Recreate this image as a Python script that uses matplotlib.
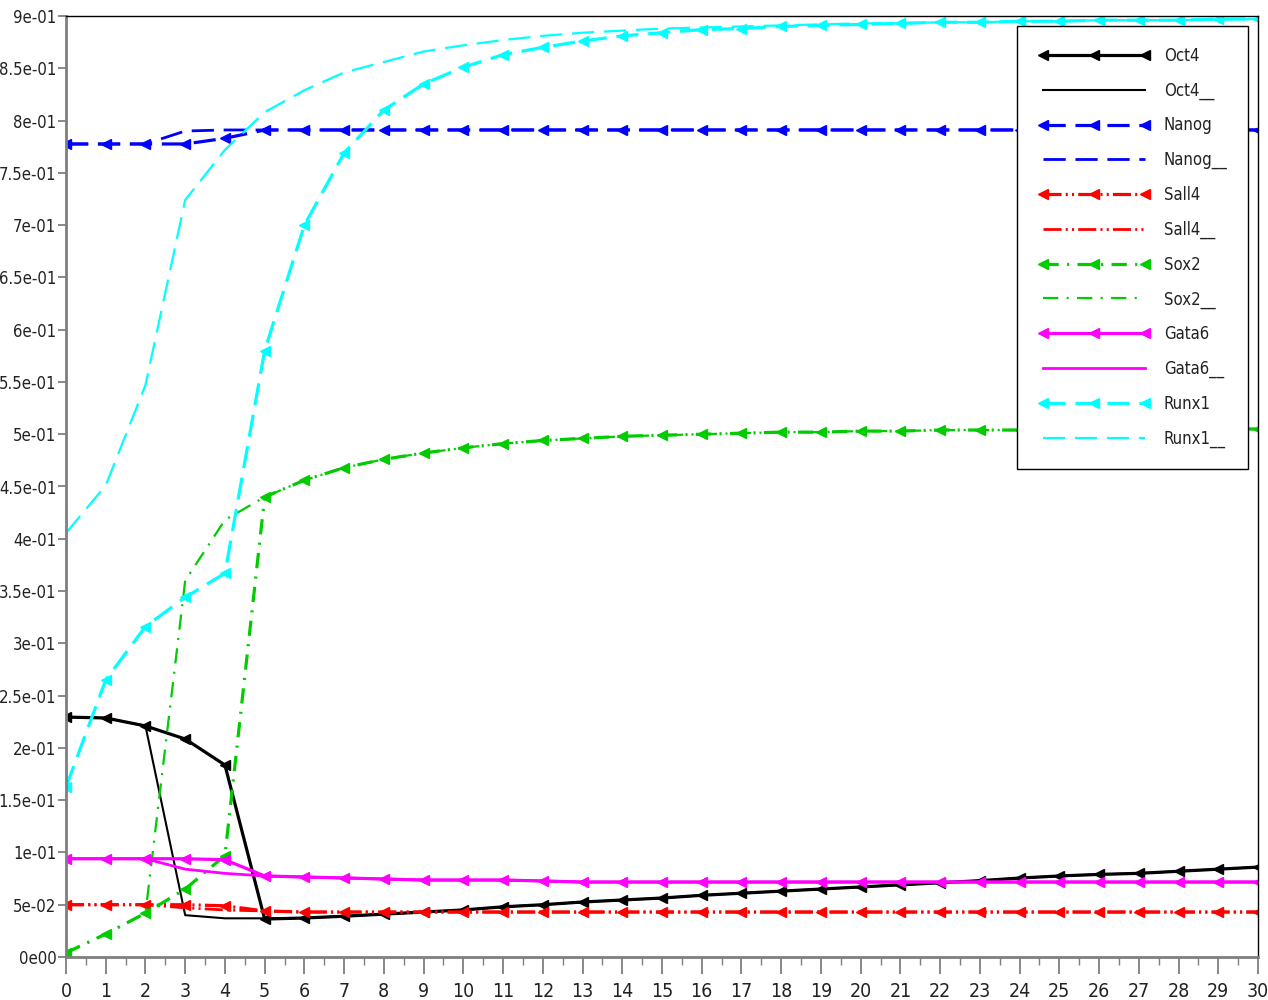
import matplotlib
matplotlib.use("Agg")
import matplotlib.pyplot as plt
from matplotlib.ticker import FixedLocator, MultipleLocator, FuncFormatter
import numpy as np

plt.rcParams["font.family"] = ["DejaVu Sans"]
plt.rcParams["font.stretch"] = "condensed"
plt.rcParams["lines.scale_dashes"] = False

t = list(range(31))

oct4 = [0.2295, 0.2286, 0.221, 0.2085, 0.1836, 0.0363, 0.0373, 0.039, 0.041, 0.043,
        0.045, 0.048, 0.050, 0.0526, 0.0545, 0.0564, 0.059, 0.061, 0.063, 0.065,
        0.067, 0.069, 0.071, 0.073, 0.0755, 0.0775, 0.079, 0.080, 0.082, 0.084, 0.086]
oct4_ = [0.2295, 0.2286, 0.221, 0.040, 0.037, 0.037, 0.0373, 0.039, 0.041, 0.043,
         0.045, 0.048, 0.050, 0.0526, 0.0545, 0.0564, 0.059, 0.061, 0.063, 0.065,
         0.067, 0.069, 0.071, 0.073, 0.0755, 0.0775, 0.079, 0.080, 0.082, 0.084, 0.086]
nanog = [0.7776, 0.7776, 0.7776, 0.7776, 0.783] + [0.791] * 26
nanog_ = [0.7776, 0.7776, 0.7776, 0.790] + [0.791] * 27
sall4 = [0.050, 0.050, 0.050, 0.050, 0.049, 0.044] + [0.043] * 25
sall4_ = [0.050, 0.050, 0.050, 0.047, 0.045, 0.044] + [0.043] * 25
sox2 = [0.004, 0.022, 0.042, 0.065, 0.097, 0.440, 0.456, 0.468, 0.476, 0.482,
        0.487, 0.491, 0.494, 0.496, 0.498, 0.499, 0.500, 0.501, 0.502, 0.502,
        0.503, 0.503, 0.504, 0.504, 0.504, 0.505, 0.505, 0.505, 0.505, 0.505, 0.505]
sox2_ = [0.004, 0.022, 0.042, 0.360, 0.418, 0.440, 0.456, 0.468, 0.476, 0.482,
         0.487, 0.491, 0.494, 0.496, 0.498, 0.499, 0.500, 0.501, 0.502, 0.502,
         0.503, 0.503, 0.504, 0.504, 0.504, 0.505, 0.505, 0.505, 0.505, 0.505, 0.505]
gata6 = [0.094, 0.094, 0.094, 0.094, 0.093, 0.0775, 0.0765, 0.0756, 0.0746, 0.0736,
         0.0736, 0.0736, 0.0727] + [0.0717] * 18
gata6_ = [0.094, 0.094, 0.094, 0.084, 0.080, 0.0775, 0.0765, 0.0756, 0.0746, 0.0736,
          0.0736, 0.0736, 0.0727] + [0.0717] * 18
runx1 = [0.1626, 0.265, 0.316, 0.344, 0.367, 0.580, 0.700, 0.769, 0.810, 0.835,
         0.851, 0.863, 0.870, 0.876, 0.881, 0.884, 0.887, 0.888, 0.890, 0.891,
         0.892, 0.893, 0.894, 0.894, 0.895, 0.895, 0.896, 0.896, 0.896, 0.897, 0.897]
runx1_ = [0.4055, 0.451, 0.547, 0.724, 0.772, 0.808, 0.829, 0.846, 0.856, 0.866,
          0.872, 0.877, 0.881, 0.884, 0.886, 0.888, 0.889, 0.890, 0.891, 0.892,
          0.893, 0.893, 0.894, 0.894, 0.895, 0.895, 0.896, 0.896, 0.896, 0.897, 0.897]

x_ticks = list(range(31))
y_ticks = [0.0, 0.05, 0.1, 0.15, 0.2, 0.25, 0.3, 0.35, 0.4, 0.45, 0.5, 0.55,
           0.6, 0.65, 0.7, 0.75, 0.8, 0.85, 0.9]

fig = plt.figure(figsize=(12.68, 10.0), dpi=100)
ax = fig.add_axes([66 / 1268, 43 / 1000, 1192 / 1268, 941 / 1000])

dash_long = (16, 7)
dash_dot = (11, 6, 1.5, 6)
dash_dotdot = (13, 3, 1.5, 3, 1.5, 3)

mk = dict(marker="<", markersize=7)
lw_m = 2.3
lw_p = 1.6

series = [
    (oct4, "Oct4", "black", None, lw_m, True),
    (oct4_, "Oct4__", "black", None, 1.5, False),
    (nanog, "Nanog", "#0000ff", dash_long, lw_m, True),
    (nanog_, "Nanog__", "#0000ff", dash_long, 2.0, False),
    (sall4, "Sall4", "#ff0000", dash_dotdot, lw_m, True),
    (sall4_, "Sall4__", "#ff0000", dash_dotdot, 2.0, False),
    (sox2, "Sox2", "#00cc00", dash_dot, lw_m, True),
    (sox2_, "Sox2__", "#00cc00", dash_dot, lw_p, False),
    (gata6, "Gata6", "#ff00ff", None, lw_m, True),
    (gata6_, "Gata6__", "#ff00ff", None, 2.0, False),
    (runx1, "Runx1", "#00ffff", dash_long, lw_m, True),
    (runx1_, "Runx1__", "#00ffff", dash_long, lw_p, False),
]

for vals, name, col, dash, lw, with_marker in series:
    kw = dict(color=col, lw=lw, label=name)
    if with_marker:
        kw.update(mk)
        kw["markerfacecolor"] = col
        kw["markeredgecolor"] = col
    line, = ax.plot(t, vals, **kw)
    if dash is not None:
        line.set_dashes(dash)

ax.set_xlim(0, 30)
ax.set_ylim(0, 0.9)

ax.xaxis.set_major_locator(FixedLocator(x_ticks))
ax.xaxis.set_minor_locator(MultipleLocator(0.5))
ax.yaxis.set_major_locator(FixedLocator(y_ticks))


def sci_label(v, pos=None):
    if abs(v) < 1e-12:
        return "0e00"
    exp = int(np.floor(np.log10(abs(v)) + 1e-9))
    mant = v / 10 ** exp
    m = f"{mant:.1f}".rstrip("0").rstrip(".")
    return f"{m}e-{abs(exp):02d}" if exp < 0 else f"{m}e{exp:02d}"


ax.yaxis.set_major_formatter(FuncFormatter(sci_label))

tick_col = "#7f7f7f"
ax.tick_params(axis="x", which="major", length=12, width=1.3, color=tick_col,
               labelsize=14, pad=6, labelcolor="#222222")
ax.tick_params(axis="x", which="minor", length=6, width=1.0, color=tick_col)
ax.tick_params(axis="y", which="major", length=6, width=1.3, color=tick_col,
               labelsize=12, pad=1, labelcolor="#222222")

for side in ("left", "bottom"):
    ax.spines[side].set_color(tick_col)
    ax.spines[side].set_linewidth(2.0)
for side in ("top", "right"):
    ax.spines[side].set_color("black")
    ax.spines[side].set_linewidth(1.0)

leg = ax.legend(loc="upper left", bbox_to_anchor=(1017 / 1268, 974 / 1000),
                bbox_transform=fig.transFigure, numpoints=3, handlelength=6.7,
                handletextpad=0.85, labelspacing=1.0, borderpad=1.25,
                fontsize=12, fancybox=False, framealpha=1.0, borderaxespad=0.0)
leg.get_frame().set_edgecolor("black")
leg.get_frame().set_linewidth(1.0)
for txt in leg.get_texts():
    txt.set_color("#222222")

fig.savefig("out.png", dpi=100, facecolor="white")
